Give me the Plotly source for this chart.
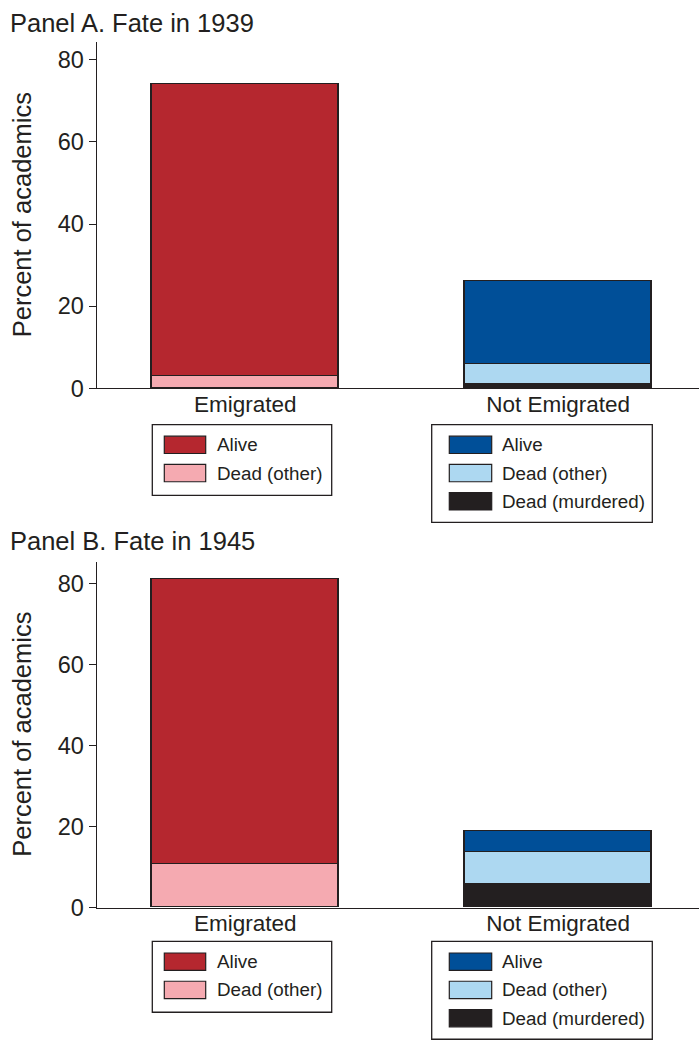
import plotly.graph_objects as go

# Categories and stacked shares (percent of academics)
groups = ["Emigrated", "Not Emigrated"]
statuses = ["Dead (murdered)", "Dead (other)", "Alive"]  # bottom to top

# Panel A: fate in 1939
y1939_murdered = [None, 0.9]
y1939_other = [2.8, 4.9]
y1939_alive = [71.2, 20.2]

# Panel B: fate in 1945
y1945_murdered = [None, 5.7]
y1945_other = [10.6, 8.0]
y1945_alive = [70.5, 5.1]

panel_titles = ["Panel A. Fate in 1939", "Panel B. Fate in 1945"]
y_title = "Percent of academics"
y_ticks = [0, 20, 40, 60, 80]

# Colours: one palette per group
colors = {
    "Emigrated": {"Alive": "#B5272F", "Dead (other)": "#F5AAB1"},
    "Not Emigrated": {"Alive": "#004F98", "Dead (other)": "#ADD8F1", "Dead (murdered)": "#231F20"},
}
INK = "#231F20"
FONT = "Liberation Sans, Arial, Helvetica, sans-serif"

W, H = 699, 1047


def px_x(p):
    return p / W


def px_y(p):
    return 1 - p / H


fig = go.Figure()

panels = [
    {"vals": {"Dead (murdered)": y1939_murdered, "Dead (other)": y1939_other, "Alive": y1939_alive},
     "xa": "x", "ya": "y"},
    {"vals": {"Dead (murdered)": y1945_murdered, "Dead (other)": y1945_other, "Alive": y1945_alive},
     "xa": "x2", "ya": "y2"},
]

for panel in panels:
    for status in statuses:
        vals = panel["vals"][status]
        fig.add_trace(go.Bar(
            x=groups,
            y=vals,
            name=status,
            width=0.6,
            marker=dict(
                color=[colors[g].get(status, "rgba(0,0,0,0)") for g in groups],
                line=dict(color=INK, width=1.5),
            ),
            xaxis=panel["xa"],
            yaxis=panel["ya"],
            showlegend=False,
            hoverinfo="x+y+name",
        ))

axis_common_x = dict(
    type="category",
    range=[-0.475, 1.45],
    domain=[px_x(96.7), 1.0],
    showline=True, linecolor=INK, linewidth=1.3,
    ticks="", showgrid=False, zeroline=False,
    ticklabelstandoff=-5,
    tickfont=dict(family=FONT, size=22.5, color=INK),
    fixedrange=True,
)
axis_common_y = dict(
    tickvals=y_ticks,
    showline=True, linecolor=INK, linewidth=1.3,
    ticks="outside", ticklen=7, tickwidth=1.3, tickcolor=INK,
    showgrid=False, zeroline=False,
    tickfont=dict(family=FONT, size=23.5, color=INK),
    fixedrange=True,
)

fig.update_layout(
    width=W, height=H,
    margin=dict(l=0, r=0, t=0, b=0),
    paper_bgcolor="white", plot_bgcolor="white",
    barmode="stack",
    bargap=0,
    showlegend=False,
    font=dict(family=FONT, color=INK),
    xaxis=dict(axis_common_x, anchor="y"),
    yaxis=dict(axis_common_y, range=[0, 84.2], domain=[px_y(393.3), px_y(43)], anchor="x"),
    xaxis2=dict(axis_common_x, anchor="y2"),
    yaxis2=dict(axis_common_y, range=[0, 85.3], domain=[px_y(919), px_y(569.3)], anchor="x2"),
)

annotations = []
shapes = []

# Panel titles and y-axis titles
for title, ty, axis_mid in zip(panel_titles, [23, 548], [218, 744]):
    annotations.append(dict(
        text=title, xref="paper", yref="paper", x=px_x(8), y=px_y(ty),
        xanchor="left", yanchor="middle", showarrow=False,
        font=dict(family=FONT, size=25.5, color=INK),
    ))
    annotations.append(dict(
        text=y_title, xref="paper", yref="paper", x=px_x(22), y=px_y(axis_mid),
        xanchor="center", yanchor="middle", textangle=-90, showarrow=False,
        font=dict(family=FONT, size=25.5, color=INK),
    ))

# Hand-built legends with wide swatches, one box per group per panel
legend_items = {
    "Emigrated": ["Alive", "Dead (other)"],
    "Not Emigrated": ["Alive", "Dead (other)", "Dead (murdered)"],
}
box_x = {"Emigrated": (152.3, 331.7), "Not Emigrated": (431.7, 652.3)}
swatch_x = {"Emigrated": (164.3, 205.7), "Not Emigrated": (449.3, 491.7)}
text_x = {"Emigrated": 215, "Not Emigrated": 500}
box_bottom = {"Emigrated": 71.7, "Not Emigrated": 99.0}

for top in [430.0, 953.3]:
    for g in groups:
        x0, x1 = box_x[g]
        shapes.append(dict(
            type="rect", xref="paper", yref="paper",
            x0=px_x(x0), x1=px_x(x1), y0=px_y(top + box_bottom[g]), y1=px_y(top),
            line=dict(color=INK, width=1.3), fillcolor="white", layer="above",
        ))
        for i, status in enumerate(legend_items[g]):
            sy0 = top + 11.7 + i * 28.6
            sy1 = sy0 + 17.5
            sx0, sx1 = swatch_x[g]
            shapes.append(dict(
                type="rect", xref="paper", yref="paper",
                x0=px_x(sx0), x1=px_x(sx1), y0=px_y(sy1), y1=px_y(sy0),
                line=dict(color=INK, width=1.2), fillcolor=colors[g][status], layer="above",
            ))
            annotations.append(dict(
                text=status, xref="paper", yref="paper",
                x=px_x(text_x[g]), y=px_y((sy0 + sy1) / 2),
                xanchor="left", yanchor="middle", showarrow=False,
                font=dict(family=FONT, size=18.8, color=INK),
            ))

fig.update_layout(annotations=annotations, shapes=shapes)

fig.write_html("out.html")
